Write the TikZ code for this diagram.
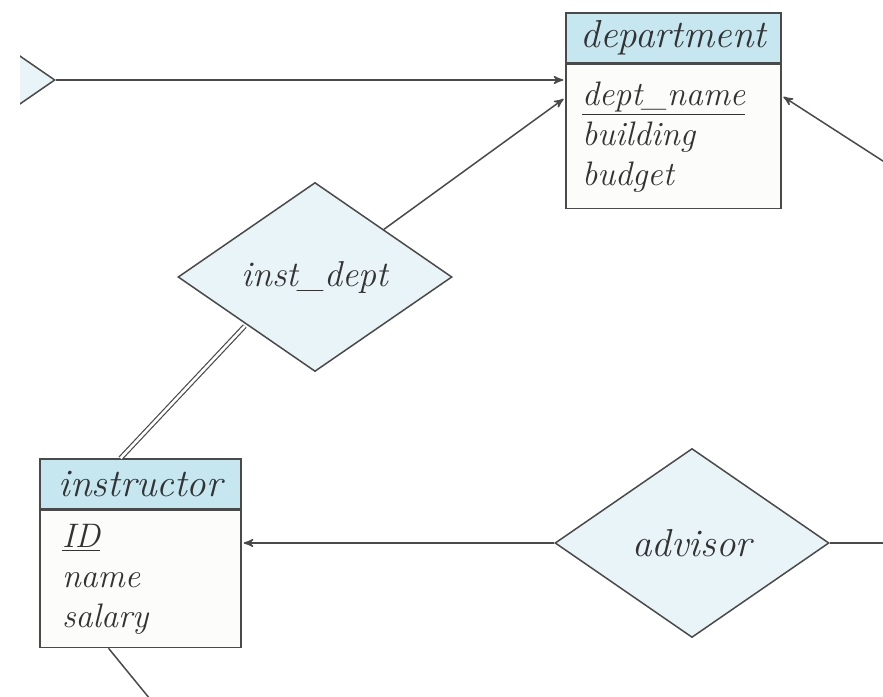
\documentclass[tikz,border=0pt]{standalone}
\usepackage{tikz}
\usetikzlibrary{arrows, shapes.geometric, positioning}

\definecolor{headblue}{HTML}{C6E7F0}
\definecolor{relblue}{HTML}{E8F4F8}
\definecolor{attrwhite}{HTML}{FCFCFA}
\definecolor{linegray}{HTML}{4A4A4A}

\begin{document}
\begin{tikzpicture}[x=0.5pt,y=-0.5pt,->,>=stealth',shorten >=1pt,
  line width=0.75pt,draw=linegray,
  every node/.style={font=\itshape\fontsize{18}{20}\selectfont,text=black!80},
  entity head/.style={rectangle,draw=linegray,fill=headblue,inner sep=0pt,minimum height=25pt,
    font=\itshape\fontsize{19.5}{20}\selectfont},
  entity body/.style={rectangle,draw=linegray,fill=attrwhite,inner ysep=0pt,align=left,text height=12pt,
    font=\itshape\fontsize{17}{20}\selectfont},
  relation/.style={diamond,draw=linegray,fill=relblue,inner sep=0pt,minimum width=137pt,minimum height=94.5pt}]
  \clip (0,0) rectangle (883,696);
  % entity sets
  \node[entity head,minimum width=107.5pt] (dept) at (673.5,38) {department};
  \node[entity body,below=0pt of dept,minimum height=72pt,text width=91.5pt,inner xsep=8pt]
    (dept-attr) {\underline{dept\_name}\\ building\\ budget};
  \node[entity head,minimum width=100.5pt] (instr) at (140.5,484) {instructor};
  \node[entity body,below=0pt of instr,minimum height=68.5pt,text width=78.5pt,inner xsep=11pt]
    (instr-attr) {\underline{ID}\\ name\\ salary};
  % relationship sets
  \node[relation] (inst-dept) at (315,277) {inst\_dept};
  \node[relation,font=\itshape\fontsize{19.5}{20}\selectfont] (advisor) at (692,543) {advisor};
  \begin{scope}
    \clip (20,0) rectangle (883,696);
    \node[relation] (rel-left) at (-82,80) {};
  \end{scope}
  % free ends at the picture edge
  \coordinate (right-a) at (886,163);
  \coordinate (right-b) at (886,543);
  \coordinate (bottom-a) at (150,699);
  % connectors
  \draw (rel-left.east) -- (rel-left.east -| dept-attr.west);
  \draw (inst-dept.north east) -- ([yshift=-17pt]dept-attr.north west);
  \draw (right-a) -- ([yshift=-16pt]dept-attr.north east);
  \draw[-,double,double distance=1.3pt,line width=0.6pt] ([xshift=-10pt]instr.north) -- (inst-dept.south west);
  \draw (advisor.west) -- (advisor.west -| instr-attr.east);
  \draw[-] (advisor.east) -- (right-b);
  \draw[-] ([xshift=-16pt]instr-attr.south) -- (bottom-a);
\end{tikzpicture}
\end{document}
